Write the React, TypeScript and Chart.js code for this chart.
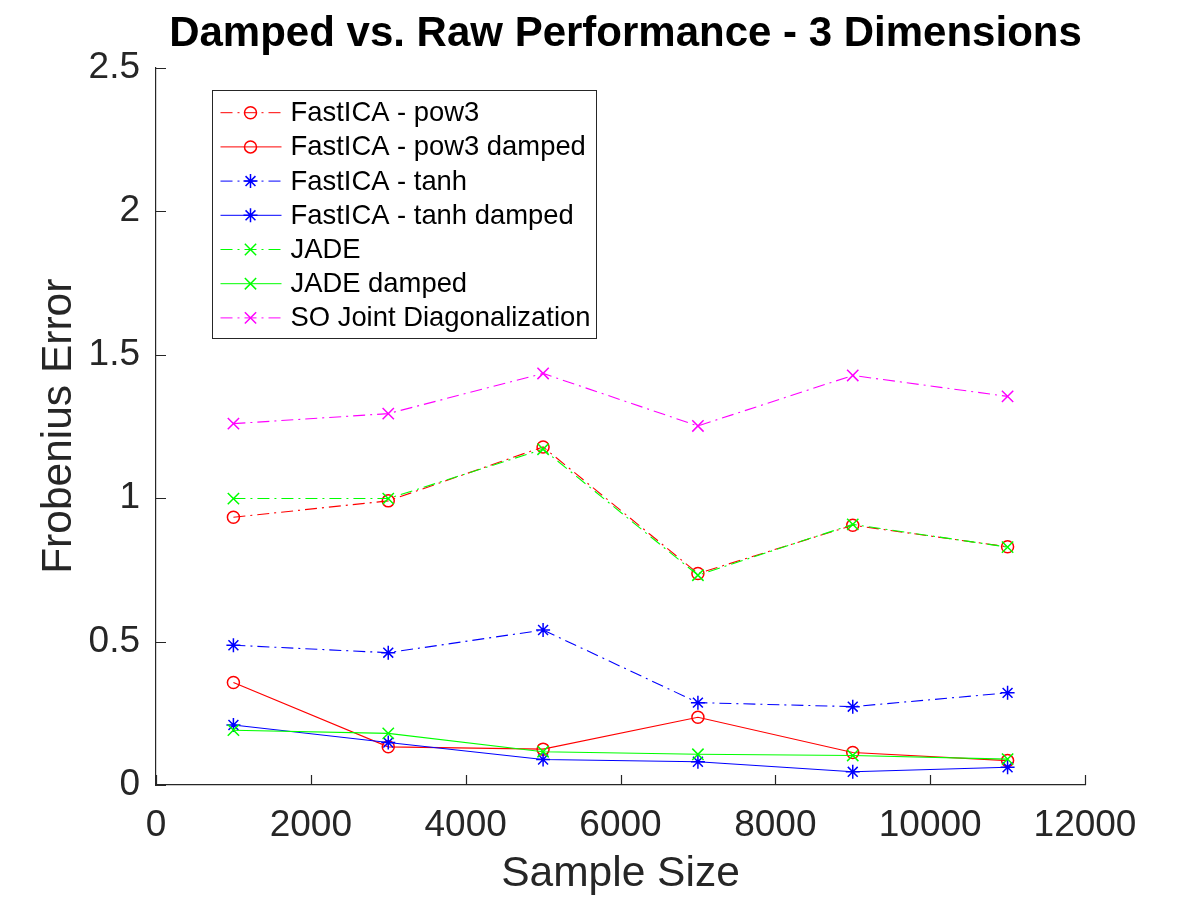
import React, { useEffect, useRef } from 'react';
import { Chart, registerables } from 'chart.js';

Chart.register(...registerables);

// ---- Data ----
const sampleSizes = [1000, 3000, 5000, 7000, 9000, 11000];
const pow3 = [0.933, 0.99, 1.178, 0.737, 0.905, 0.83];
const pow3Damped = [0.357, 0.133, 0.125, 0.236, 0.113, 0.085];
const tanh = [0.487, 0.461, 0.54, 0.287, 0.273, 0.321];
const tanhDamped = [0.209, 0.148, 0.089, 0.081, 0.046, 0.062];
const jade = [0.998, 0.998, 1.17, 0.731, 0.908, 0.829];
const jadeDamped = [0.191, 0.18, 0.116, 0.107, 0.103, 0.09];
const soJointDiag = [1.259, 1.294, 1.434, 1.251, 1.427, 1.354];

const seriesLabels = [
  'FastICA - pow3',
  'FastICA - pow3 damped',
  'FastICA - tanh',
  'FastICA - tanh damped',
  'JADE',
  'JADE damped',
  'SO Joint Diagonalization',
];

const TITLE = 'Damped vs. Raw Performance - 3 Dimensions';
const X_TITLE = 'Sample Size';
const Y_TITLE = 'Frobenius Error';
const X_MIN = 0;
const X_MAX = 12000;
const X_STEP = 2000;
const Y_MIN = 0;
const Y_MAX = 2.5;
const Y_STEP = 0.5;

// ---- Styles ----
const FONT = '"Liberation Sans", Arial, Helvetica, sans-serif';
const AXIS_COLOR = '#262626';
const DASH_DOT = [12, 5, 2, 5];

type Marker = 'circle' | 'star' | 'crossRot';

const styles: { color: string; dashed: boolean; marker: Marker; radius: number }[] = [
  { color: '#ff0000', dashed: true, marker: 'circle', radius: 6 },
  { color: '#ff0000', dashed: false, marker: 'circle', radius: 6 },
  { color: '#0000ff', dashed: true, marker: 'star', radius: 7 },
  { color: '#0000ff', dashed: false, marker: 'star', radius: 7 },
  { color: '#00ff00', dashed: true, marker: 'crossRot', radius: 8 },
  { color: '#00ff00', dashed: false, marker: 'crossRot', radius: 8 },
  { color: '#ff00ff', dashed: true, marker: 'crossRot', radius: 8 },
];

const seriesValues = [pow3, pow3Damped, tanh, tanhDamped, jade, jadeDamped, soJointDiag];

function drawMarker(ctx: CanvasRenderingContext2D, marker: Marker, x: number, y: number, r: number) {
  ctx.beginPath();
  if (marker === 'circle') {
    ctx.arc(x, y, r, 0, Math.PI * 2);
  } else if (marker === 'star') {
    const d = r * Math.SQRT1_2;
    ctx.moveTo(x - r, y); ctx.lineTo(x + r, y);
    ctx.moveTo(x, y - r); ctx.lineTo(x, y + r);
    ctx.moveTo(x - d, y - d); ctx.lineTo(x + d, y + d);
    ctx.moveTo(x - d, y + d); ctx.lineTo(x + d, y - d);
  } else {
    const d = r * Math.SQRT1_2;
    ctx.moveTo(x - d, y - d); ctx.lineTo(x + d, y + d);
    ctx.moveTo(x - d, y + d); ctx.lineTo(x + d, y - d);
  }
  ctx.stroke();
}

const titlePlugin = {
  id: 'matlabTitle',
  afterDraw(chart: any) {
    const ctx: CanvasRenderingContext2D = chart.ctx;
    const { left, right } = chart.chartArea;
    ctx.save();
    ctx.font = `bold 42px ${FONT}`;
    ctx.fillStyle = '#000000';
    ctx.textAlign = 'center';
    ctx.textBaseline = 'alphabetic';
    ctx.fillText(TITLE, (left + right) / 2 + 5, 46);
    ctx.restore();
  },
};

const inwardTicksPlugin = {
  id: 'inwardTicks',
  afterDraw(chart: any) {
    const ctx: CanvasRenderingContext2D = chart.ctx;
    const { left, bottom } = chart.chartArea;
    const xs = chart.scales.x;
    const ys = chart.scales.y;
    ctx.save();
    ctx.strokeStyle = AXIS_COLOR;
    ctx.lineWidth = 1.2;
    ctx.beginPath();
    xs.ticks.forEach((t: any) => {
      const px = Math.round(xs.getPixelForValue(t.value)) + 0.5;
      ctx.moveTo(px, bottom);
      ctx.lineTo(px, bottom - 10);
    });
    ys.ticks.forEach((t: any) => {
      const py = Math.round(ys.getPixelForValue(t.value)) + 0.5;
      ctx.moveTo(left, py);
      ctx.lineTo(left + 10, py);
    });
    ctx.stroke();
    ctx.restore();
  },
};

const boxLegendPlugin = {
  id: 'boxLegend',
  afterDraw(chart: any) {
    const ctx: CanvasRenderingContext2D = chart.ctx;
    const { left, top } = chart.chartArea;
    const bx = Math.round(left + 56) + 0.5;
    const by = Math.round(top + 22) + 0.5;
    const bw = 384;
    const bh = 248;
    ctx.save();
    ctx.fillStyle = '#ffffff';
    ctx.fillRect(bx, by, bw, bh);
    ctx.strokeStyle = AXIS_COLOR;
    ctx.lineWidth = 1;
    ctx.strokeRect(bx, by, bw, bh);
    const rowH = 34.2;
    const firstRow = by + 22.2;
    chart.data.datasets.forEach((ds: any, i: number) => {
      const st = styles[i];
      const y = firstRow + i * rowH;
      ctx.strokeStyle = ds.borderColor;
      ctx.lineWidth = 1;
      ctx.setLineDash(st.dashed ? DASH_DOT : []);
      ctx.beginPath();
      ctx.moveTo(bx + 8, y);
      ctx.lineTo(bx + 69, y);
      ctx.stroke();
      ctx.setLineDash([]);
      ctx.lineWidth = 1.5;
      drawMarker(ctx, st.marker, bx + 38, y, st.radius);
      ctx.fillStyle = '#000000';
      ctx.font = `27.4px ${FONT}`;
      ctx.textAlign = 'left';
      ctx.textBaseline = 'middle';
      ctx.fillText(ds.label, bx + 78, y + 1);
    });
    ctx.restore();
  },
};

export default function App() {
  const canvasRef = useRef<HTMLCanvasElement | null>(null);

  useEffect(() => {
    if (!canvasRef.current) return;
    const n = seriesLabels.length;
    const datasets = seriesLabels.map((label, i) => {
      const st = styles[i];
      return {
        label,
        data: sampleSizes.map((x, j) => ({ x, y: seriesValues[i][j] })),
        borderColor: st.color,
        backgroundColor: 'transparent',
        borderWidth: 1.1,
        borderDash: st.dashed ? DASH_DOT : [],
        pointStyle: st.marker,
        pointRadius: st.radius,
        pointBorderColor: st.color,
        pointBackgroundColor: 'transparent',
        pointBorderWidth: 1.5,
        fill: false,
        tension: 0,
        order: n - i,
      };
    });

    const chart = new Chart(canvasRef.current, {
      type: 'line',
      data: { datasets },
      options: {
        animation: false,
        responsive: false,
        devicePixelRatio: 1,
        layout: { padding: { left: 0, right: 115, top: 67.5, bottom: 0 } },
        plugins: {
          legend: { display: false },
          tooltip: { enabled: false },
          title: { display: false },
        },
        scales: {
          x: {
            type: 'linear',
            min: X_MIN,
            max: X_MAX,
            afterFit: (scale: any) => { scale.height = 115; },
            ticks: {
              stepSize: X_STEP,
              color: AXIS_COLOR,
              font: { family: FONT, size: 37 },
              padding: 19,
              maxRotation: 0,
              callback: (v: any) => String(v),
            },
            grid: { display: false, drawTicks: false, tickLength: 0 },
            border: { display: true, color: AXIS_COLOR, width: 1.2 },
            title: {
              display: true,
              text: X_TITLE,
              color: AXIS_COLOR,
              font: { family: FONT, size: 42.5 },
              padding: { top: 0, bottom: 0 },
            },
          },
          y: {
            type: 'linear',
            min: Y_MIN,
            max: Y_MAX,
            afterFit: (scale: any) => { scale.width = 156; },
            ticks: {
              stepSize: Y_STEP,
              color: AXIS_COLOR,
              font: { family: FONT, size: 37 },
              padding: 16,
              callback: (v: any) => String(v),
            },
            grid: { display: false, drawTicks: false, tickLength: 0 },
            border: { display: true, color: AXIS_COLOR, width: 1.2 },
            title: {
              display: true,
              text: Y_TITLE,
              color: AXIS_COLOR,
              font: { family: FONT, size: 42.5 },
              padding: { top: 34, bottom: 0 },
            },
          },
        },
      },
      plugins: [titlePlugin, inwardTicksPlugin, boxLegendPlugin],
    } as any);

    return () => chart.destroy();
  }, []);

  return (
    <div style={{ position: 'absolute', left: 0, top: 0, width: 1200, height: 900, background: '#ffffff' }}>
      <canvas ref={canvasRef} width={1200} height={900} style={{ display: 'block' }} />
    </div>
  );
}
